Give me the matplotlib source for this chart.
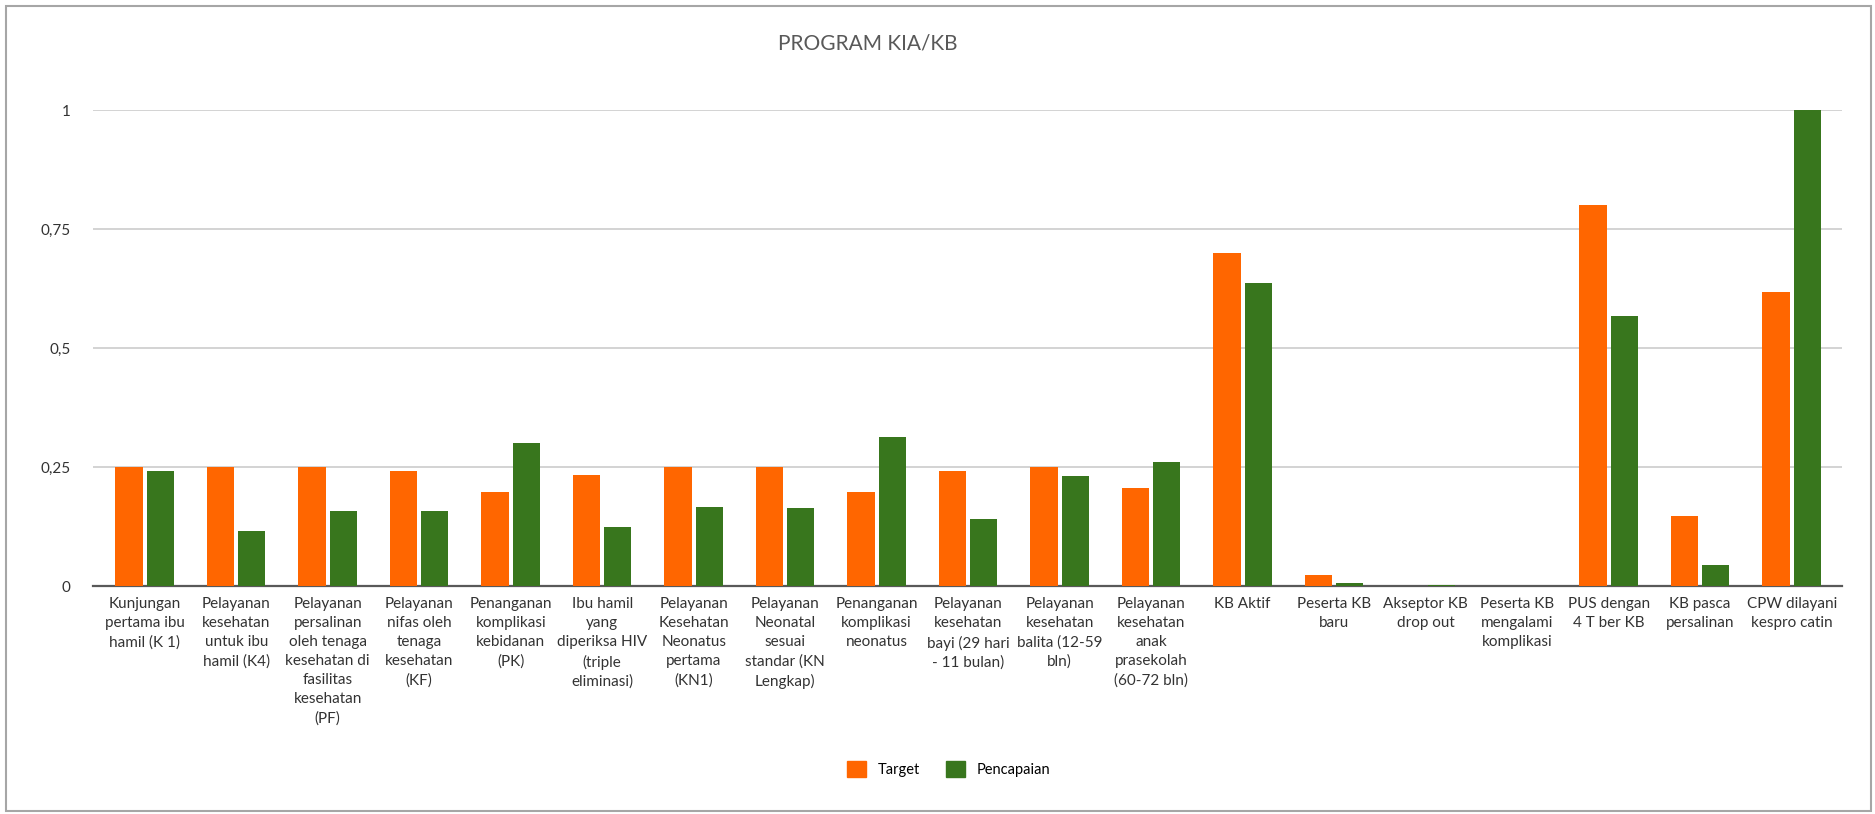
import matplotlib.pyplot as plt
from matplotlib.patches import Rectangle, Patch
import numpy as np

plt.rcParams['font.family'] = ['Lato', 'DejaVu Sans']

categories = [
    'Kunjungan\npertama ibu\nhamil (K 1)',
    'Pelayanan\nkesehatan\nuntuk ibu\nhamil (K4)',
    'Pelayanan\npersalinan\noleh tenaga\nkesehatan di\nfasilitas\nkesehatan\n(PF)',
    'Pelayanan\nnifas oleh\ntenaga\nkesehatan\n(KF)',
    'Penanganan\nkomplikasi\nkebidanan\n(PK)',
    'Ibu hamil\nyang\ndiperiksa HIV\n(triple\neliminasi)',
    'Pelayanan\nKesehatan\nNeonatus\npertama\n(KN1)',
    'Pelayanan\nNeonatal\nsesuai\nstandar (KN\nLengkap)',
    'Penanganan\nkomplikasi\nneonatus',
    'Pelayanan\nkesehatan\nbayi (29 hari\n- 11 bulan)',
    'Pelayanan\nkesehatan\nbalita (12-59\nbln)',
    'Pelayanan\nkesehatan\nanak\nprasekolah\n(60-72 bln)',
    'KB Aktif',
    'Peserta KB\nbaru',
    'Akseptor KB\ndrop out',
    'Peserta KB\nmengalami\nkomplikasi',
    'PUS dengan\n4 T ber KB',
    'KB pasca\npersalinan',
    'CPW dilayani\nkespro catin',
]

target = [0.25, 0.25, 0.25, 0.242, 0.198, 0.234, 0.25, 0.25, 0.198, 0.242,
          0.25, 0.206, 0.70, 0.023, 0.0, 0.0, 0.80, 0.148, 0.618]
pencapaian = [0.242, 0.116, 0.158, 0.158, 0.30, 0.123, 0.166, 0.163, 0.312, 0.141,
              0.231, 0.261, 0.636, 0.006, 0.002, 0.0, 0.568, 0.045, 1.0]

y_ticks = [0, 0.25, 0.5, 0.75, 1]
y_tick_labels = ['0', '0,25', '0,5', '0,75', '1']

orange = '#ff6600'
green = '#38761d'

fig = plt.figure(figsize=(18.75, 8.14), dpi=100)
ax = fig.add_axes([93 / 1875, 1 - 586 / 814, (1842 - 93) / 1875, (586 - 110) / 814])

x = np.arange(len(categories))
w = 0.3
ax.bar(x - 0.17, target, w, color=orange, label='Target', zorder=3)
ax.bar(x + 0.17, pencapaian, w, color=green, label='Pencapaian', zorder=3)

ax.set_xlim(-0.565, len(categories) - 0.45)
ax.set_ylim(0, 1)
ax.set_yticks(y_ticks)
ax.set_yticklabels(y_tick_labels, fontsize=11, color='#333333')
ax.set_xticks(x)
ax.set_xticklabels(categories, fontsize=11, color='#333333', va='top', linespacing=1.45)
ax.tick_params(axis='both', length=0)
ax.tick_params(axis='y', pad=16)
ax.tick_params(axis='x', pad=8)

ax.grid(axis='y', color='#d0d0d0', linewidth=1.3, zorder=0)
for s in ['top', 'right', 'left']:
    ax.spines[s].set_visible(False)
ax.spines['bottom'].set_color('#595959')
ax.spines['bottom'].set_linewidth(1.6)
ax.spines['bottom'].set_zorder(2)

# title
fig.text(868 / 1875, 1 - 44 / 814, 'PROGRAM KIA/KB', ha='center', va='center',
         fontsize=15, color='#595959')

# legend
handles = [Patch(color=orange, label='Target'), Patch(color=green, label='Pencapaian')]
fig.legend(handles=handles, loc='center', bbox_to_anchor=(949 / 1875, 1 - 769 / 814),
           ncol=2, frameon=False, fontsize=10.5, handlelength=1.3, handleheight=1.3,
           columnspacing=1.8, handletextpad=0.8)

# outer border
fig.patches.append(Rectangle((6 / 1875, 3 / 814), 1865 / 1875, 805 / 814,
                             transform=fig.transFigure, fill=False,
                             edgecolor='#a6a6a6', linewidth=1.5))

fig.savefig('out.png', dpi=100)
